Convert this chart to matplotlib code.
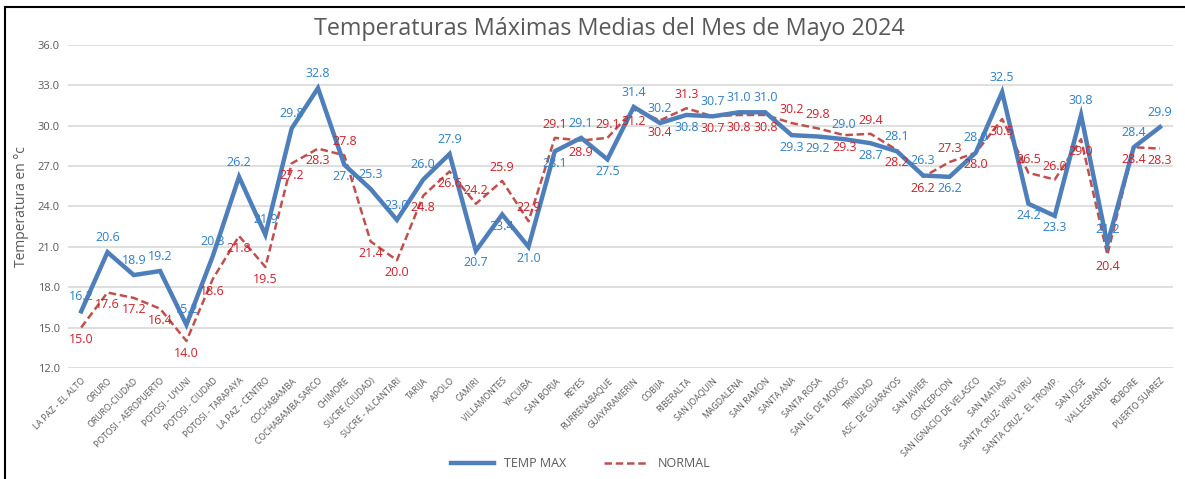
import matplotlib
matplotlib.use("Agg")
import matplotlib.pyplot as plt
from matplotlib.lines import Line2D

plt.rcParams['font.family'] = ['Open Sans', 'DejaVu Sans']

estaciones = ["LA PAZ - EL ALTO", "ORURO", "ORURO-CIUDAD", "POTOSI - AEROPUERTO",
              "POTOSI - UYUNI", "POTOSI - CIUDAD", "POTOSI - TARAPAYA", "LA PAZ - CENTRO",
              "COCHABAMBA", "COCHABAMBA SARCO", "CHIMORE", "SUCRE (CIUDAD)",
              "SUCRE - ALCANTARI", "TARIJA", "APOLO", "CAMIRI", "VILLAMONTES", "YACUIBA",
              "SAN BORJA", "REYES", "RURRENABAQUE", "GUAYARAMERIN", "COBIJA", "RIBERALTA",
              "SAN JOAQUIN", "MAGDALENA", "SAN RAMON", "SANTA ANA", "SANTA ROSA",
              "SAN IG. DE MOXOS", "TRINIDAD", "ASC. DE GUARAYOS", "SAN JAVIER",
              "CONCEPCION", "SAN IGNACIO DE VELASCO", "SAN MATIAS", "SANTA CRUZ- VIRU VIRU",
              "SANTA CRUZ - EL TROMP.", "SAN JOSE", "VALLEGRANDE", "ROBORE", "PUERTO SUAREZ"]
temp_max = [16.2, 20.6, 18.9, 19.2, 15.2, 20.3, 26.2, 21.9, 29.8, 32.8, 27.1, 25.3,
            23.0, 26.0, 27.9, 20.7, 23.4, 21.0, 28.1, 29.1, 27.5, 31.4, 30.2, 30.8,
            30.7, 31.0, 31.0, 29.3, 29.2, 29.0, 28.7, 28.1, 26.3, 26.2, 28.0, 32.5,
            24.2, 23.3, 30.8, 21.2, 28.4, 29.9]
normal = [15.0, 17.6, 17.2, 16.4, 14.0, 18.6, 21.8, 19.5, 27.2, 28.3, 27.8, 21.4,
          20.0, 24.8, 26.6, 24.2, 25.9, 22.9, 29.1, 28.9, 29.1, 31.2, 30.4, 31.3,
          30.7, 30.8, 30.8, 30.2, 29.8, 29.3, 29.4, 28.2, 26.2, 27.3, 28.0, 30.5,
          26.5, 26.0, 29.0, 20.4, 28.4, 28.3]
yticks = [12.0, 15.0, 18.0, 21.0, 24.0, 27.0, 30.0, 33.0, 36.0]

fig = plt.figure(figsize=(11.85, 4.79), dpi=100)
ax = fig.add_axes([0.0574, 0.232, 0.9326, 0.674])

x = list(range(len(estaciones)))
ax.plot(x, temp_max, color='#4F7FBA', lw=3.2, solid_joinstyle='miter', label='TEMP MAX', zorder=3)
ax.plot(x, normal, color='#C0504D', lw=1.8, ls=(0, (3, 1.5)), label='NORMAL', zorder=2)

# etiquetas: la serie mayor arriba, la menor abajo
for i in x:
    if normal[i] > temp_max[i] + 0.3:
        b_off, b_va, n_off, n_va = (0, -4), 'top', (0, 5), 'bottom'
    else:
        b_off, b_va, n_off, n_va = (0, 6), 'bottom', (0, -4), 'top'
    ax.annotate(f"{temp_max[i]:.1f}", (i, temp_max[i]), xytext=b_off, textcoords='offset points',
                ha='center', va=b_va, fontsize=9, color='#2F7FC8', zorder=4)
    ax.annotate(f"{normal[i]:.1f}", (i, normal[i]), xytext=n_off, textcoords='offset points',
                ha='center', va=n_va, fontsize=9, color='#D0202A', zorder=4)

ax.set_xlim(-0.5, len(estaciones) - 0.5)
ax.set_ylim(12, 36)
ax.set_yticks(yticks)
ax.set_yticklabels([f"{t:.1f}" for t in yticks], fontsize=8, color='#595959')
ax.set_xticks(x)
ax.set_xticklabels(estaciones, rotation=45, ha='right', rotation_mode='anchor',
                   fontsize=6.3, color='#595959')
ax.tick_params(length=0, pad=6)
ax.grid(axis='y', color='#D9D9D9', lw=1.2)
ax.set_axisbelow(True)
for s in ax.spines.values():
    s.set_visible(False)
ax.set_ylabel("Temperatura en °c", fontsize=10, color='#595959', labelpad=6)

fig.suptitle("Temperaturas Máximas Medias del Mes de Mayo 2024", fontsize=16.8,
             color='#595959', x=0.514, y=0.965)

fig.legend(loc='lower center', ncol=2, frameon=False, fontsize=9,
           bbox_to_anchor=(0.49, -0.005), handlelength=3.5, columnspacing=3,
           labelcolor='#595959')

# marco del gráfico
fig.add_artist(Line2D([0.004, 1], [0.985, 0.985], color='black', lw=1.5, transform=fig.transFigure))
fig.add_artist(Line2D([0.004, 0.004], [0, 0.985], color='black', lw=1.5, transform=fig.transFigure))

fig.savefig("out.png", dpi=100)
